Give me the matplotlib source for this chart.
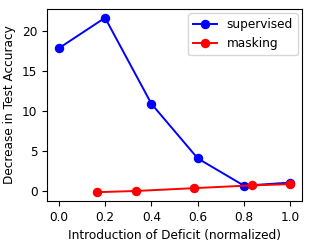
import matplotlib
matplotlib.use("Agg")
import matplotlib.pyplot as plt

sup_x = [0.0, 0.2, 0.4, 0.6, 0.8, 1.0]
sup_y = [17.8, 21.6, 10.9, 4.1, 0.7, 1.1]
mask_x = [1/6, 2/6, 0.583, 5/6, 1.0]
mask_y = [-0.1, 0.05, 0.4, 0.75, 0.9]

plt.rcParams['font.size'] = 8.7
fig, ax = plt.subplots(figsize=(3.14, 2.45), dpi=100)
ax.plot(sup_x, sup_y, 'o-', color='blue', label='supervised', markersize=5.8, linewidth=1.4)
ax.plot(mask_x, mask_y, 'o-', color='red', label='masking', markersize=5.8, linewidth=1.4)
ax.set_xlabel('Introduction of Deficit (normalized)')
ax.set_ylabel('Decrease in Test Accuracy')
ax.set_yticks([0, 5, 10, 15, 20])
ax.legend(loc='upper right', borderaxespad=0.35)
fig.subplots_adjust(left=0.15, right=0.962, top=0.963, bottom=0.18)
fig.savefig('out.png', dpi=100)
